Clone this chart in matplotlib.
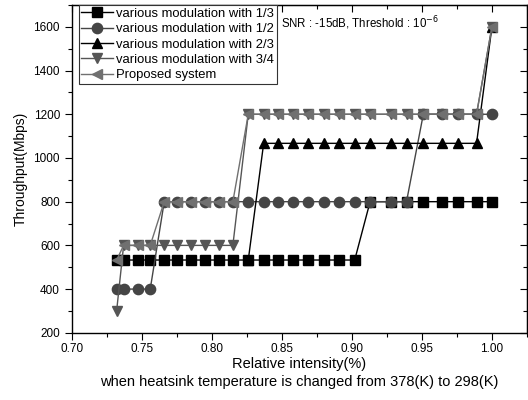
import numpy as np
import matplotlib
matplotlib.use("Agg")
import matplotlib.pyplot as plt
from matplotlib.ticker import MultipleLocator

plt.rcParams['font.family'] = ['Liberation Sans', 'DejaVu Sans']

# relative intensity (x) shared by all series
x = [0.732, 0.737, 0.747, 0.756, 0.766, 0.775, 0.785, 0.795, 0.805, 0.815,
     0.826, 0.837, 0.847, 0.858, 0.869, 0.880, 0.891, 0.902, 0.913, 0.928,
     0.939, 0.951, 0.964, 0.976, 0.989, 1.000]

r13 = [533] * 18 + [800] * 8
r12 = [400] * 4 + [800] * 17 + [1200] * 5
r23 = [None] * 10 + [533] + [1067] * 14 + [1600]
r34 = [300] + [600] * 9 + [1200] * 15 + [1600]
prop = [533] + [600] * 3 + [800] * 6 + [1200] * 15 + [1600]

labels = ["various modulation with 1/3", "various modulation with 1/2",
          "various modulation with 2/3", "various modulation with 3/4",
          "Proposed system"]

fig = plt.figure(figsize=(5.28, 4.0), dpi=100)
ax = fig.add_axes([0.136, 0.168, 0.862, 0.8195])

def arr(v):
    return np.array([np.nan if a is None else a for a in v], dtype=float)

ax.plot(x, arr(r13), color='black', marker='s', ms=6.5, lw=1, label=labels[0])
ax.plot(x, arr(r12), color='#454545', marker='o', ms=7.4, lw=1, label=labels[1])
ax.plot(x, arr(r23), color='black', marker='^', ms=7.8, lw=1, label=labels[2])
ax.plot(x, arr(r34), color='#555555', marker='v', ms=7.8, lw=1, label=labels[3])
ax.plot(x, arr(prop), color='#707070', marker='<', ms=7.8, lw=1, label=labels[4])

ax.set_xlim(0.70, 1.025)
ax.set_ylim(200, 1700)
ax.xaxis.set_minor_locator(MultipleLocator(0.025))
ax.yaxis.set_major_locator(MultipleLocator(200))
ax.yaxis.set_minor_locator(MultipleLocator(100))
ax.set_xticks([0.70, 0.75, 0.80, 0.85, 0.90, 0.95, 1.00])
ax.set_xticklabels(["0.70", "0.75", "0.80", "0.85", "0.90", "0.95", "1.00"])
ax.tick_params(which='both', direction='out', labelsize=8.5, width=0.8)
ax.tick_params(which='major', length=5)
ax.tick_params(which='minor', length=3)
ax.tick_params(axis='x', pad=2.5)

# inward ticks on top and right
for spine in ax.spines.values():
    spine.set_linewidth(1.0)
axt = ax.secondary_xaxis('top')
axt.set_xticks([0.70, 0.75, 0.80, 0.85, 0.90, 0.95, 1.00])
axt.xaxis.set_minor_locator(MultipleLocator(0.025))
axt.tick_params(which='both', direction='in', labeltop=False, width=0.8)
axt.tick_params(which='major', length=5)
axt.tick_params(which='minor', length=3)
axr = ax.secondary_yaxis('right')
axr.yaxis.set_major_locator(MultipleLocator(200))
axr.yaxis.set_minor_locator(MultipleLocator(100))
axr.tick_params(which='both', direction='in', labelright=False, width=0.8)
axr.tick_params(which='major', length=5)
axr.tick_params(which='minor', length=3)

ax.set_ylabel("Throughput(Mbps)", fontsize=10)
ax.set_xlabel("Relative intensity(%)", fontsize=10.5, labelpad=1.5)
fig.text(0.566, 0.044, "when heatsink temperature is changed from 378(K) to 298(K)",
         fontsize=10.5, ha='center', va='center')

ax.text(0.46, 0.945, r"SNR : -15dB, Threshold : 10$^{-6}$", transform=ax.transAxes,
        fontsize=8.3, va='center')

leg = ax.legend(loc='upper left', bbox_to_anchor=(0.015, 1.0), fontsize=9.4,
                frameon=True, fancybox=False, framealpha=1, edgecolor='#333333',
                borderpad=0.2, labelspacing=0.25, handlelength=2.4,
                handletextpad=0.3, borderaxespad=0)
leg.get_frame().set_linewidth(0.8)

fig.savefig("out.png", dpi=100)
